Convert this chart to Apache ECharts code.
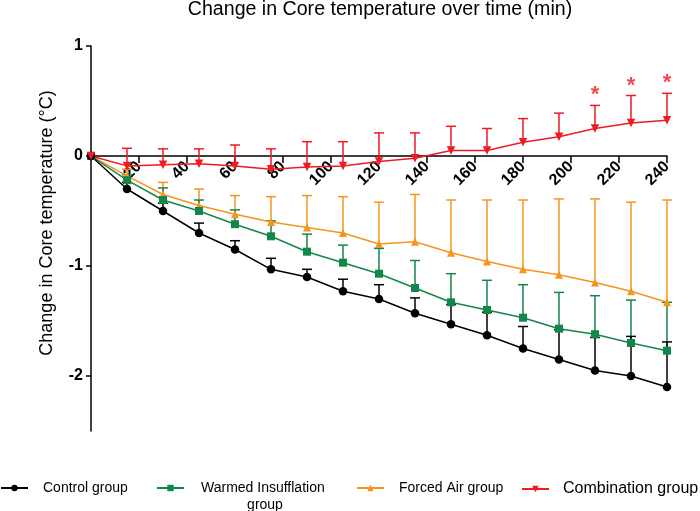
<!DOCTYPE html>
<html>
<head>
<meta charset="utf-8">
<script src="https://cdn.jsdelivr.net/npm/echarts@6/dist/echarts.min.js"></script>
<style>html,body{margin:0;padding:0;background:#fff}#main{width:700px;height:511px}</style>
</head>
<body>
<div id="main"></div>
<script>
const times = [0,15,30,45,60,75,90,105,120,135,150,165,180,195,210,225,240];
const xTicks = [20,40,60,80,100,120,140,160,180,200,220,240];
const yTicks = [-2,-1,0,1];

const controlMean  = [0,-0.30,-0.50,-0.70,-0.85,-1.03,-1.10,-1.23,-1.30,-1.43,-1.53,-1.63,-1.75,-1.85,-1.95,-2.00,-2.10];
const controlUpper = [0,-0.24,-0.43,-0.61,-0.77,-0.93,-1.03,-1.12,-1.17,-1.29,-1.35,-1.42,-1.55,-1.58,-1.65,-1.64,-1.69];
const warmedMean   = [0,-0.22,-0.40,-0.50,-0.62,-0.73,-0.87,-0.97,-1.07,-1.20,-1.33,-1.40,-1.47,-1.57,-1.62,-1.70,-1.77];
const warmedUpper  = [0,-0.17,-0.29,-0.40,-0.49,-0.59,-0.71,-0.81,-0.84,-0.95,-1.07,-1.13,-1.17,-1.24,-1.27,-1.31,-1.33];
const forcedMean   = [0,-0.18,-0.35,-0.45,-0.53,-0.60,-0.65,-0.70,-0.80,-0.78,-0.88,-0.96,-1.03,-1.08,-1.15,-1.23,-1.33];
const forcedUpper  = [0,-0.12,-0.24,-0.30,-0.36,-0.37,-0.36,-0.37,-0.42,-0.35,-0.40,-0.40,-0.40,-0.39,-0.39,-0.42,-0.40];
const comboMean    = [0,-0.09,-0.08,-0.07,-0.09,-0.12,-0.10,-0.09,-0.05,-0.02,0.05,0.05,0.125,0.175,0.25,0.30,0.325];
const comboUpper   = [0,0.07,0.065,0.065,0.10,0.065,0.13,0.13,0.21,0.21,0.27,0.25,0.34,0.39,0.46,0.55,0.57];
const sigTimes = [210,225,240];

const FONT = 'Liberation Sans, Arial, Helvetica, sans-serif';
const C_BLACK = '#000000', C_GREEN = '#12874a', C_ORANGE = '#f7941d', C_RED = '#f01a22';

function errSeries(mean, upper, color) {
  return {
    type: 'custom', silent: true, z: 2,
    data: times.map((t, i) => [t, mean[i], upper[i]]),
    encode: { x: 0, y: [1, 2] },
    renderItem: function (params, api) {
      const x = api.value(0), m = api.value(1), u = api.value(2);
      if (u === m) return null;
      const p1 = api.coord([x, m]);
      const p2 = api.coord([x, u]);
      return {
        type: 'group',
        children: [
          { type: 'line', shape: { x1: p1[0], y1: p1[1], x2: p2[0], y2: p2[1] }, style: { stroke: color, lineWidth: 1.5 } },
          { type: 'line', shape: { x1: p2[0] - 5, y1: p2[1], x2: p2[0] + 5, y2: p2[1] }, style: { stroke: color, lineWidth: 1.5 } }
        ]
      };
    }
  };
}

function lineSeries(name, mean, color, symbol, size, rotate) {
  return {
    type: 'line', name: name, z: 3,
    data: times.map((t, i) => [t, mean[i]]),
    symbol: symbol, symbolSize: size, symbolRotate: rotate || 0,
    showAllSymbol: true,
    itemStyle: { color: color },
    lineStyle: { color: color, width: 1.5 }
  };
}

function legendFor(name, left, fontSize, extra) {
  return Object.assign({
    show: true, data: [name], left: left, top: 481, padding: 0,
    itemWidth: 27, itemHeight: 8, selectedMode: false,
    textStyle: { fontSize: fontSize, color: '#000', fontFamily: FONT, padding: [0, 0, 0, 10] }
  }, extra || {});
}

const chart = echarts.init(document.getElementById('main'));
chart.setOption({
  animation: false,
  backgroundColor: '#fff',
  title: {
    text: 'Change in Core temperature over time (min)',
    left: 380, top: 0, padding: 0, textAlign: 'center',
    textStyle: { fontSize: 19.6, fontWeight: 'normal', color: '#000', fontFamily: FONT }
  },
  grid: { left: 91, right: 33, top: 46, bottom: 80, containLabel: false },
  xAxis: {
    type: 'value', min: 0, max: 240, interval: 20,
    offset: -275,
    axisLine: { onZero: false, lineStyle: { color: '#000', width: 1.5 } },
    axisTick: { show: true, customValues: xTicks, length: 7, lineStyle: { color: '#000', width: 1.5 } },
    axisLabel: { customValues: xTicks, rotate: 45, fontSize: 16, fontWeight: 'bold', color: '#000', fontFamily: FONT, margin: 8 },
    splitLine: { show: false }
  },
  yAxis: {
    type: 'value', min: -2.5, max: 1,
    axisLine: { show: true, lineStyle: { color: '#000', width: 1.5 } },
    axisTick: { show: true, customValues: yTicks, length: 5, lineStyle: { color: '#000', width: 1.5 } },
    axisLabel: { customValues: yTicks, fontSize: 16, fontWeight: 'bold', color: '#000', fontFamily: FONT, margin: 8 },
    splitLine: { show: false }
  },
  legend: [
    legendFor('Control group', 0, 14),
    legendFor('Warmed Insufflation group', 156, 14, {
      formatter: function () { return '{a|Warmed Insufflation}\n{b|group}'; },
      textStyle: {
        fontSize: 14, color: '#000', fontFamily: FONT, padding: [17, 0, 0, 12],
        rich: { a: { fontSize: 14, fontFamily: FONT, lineHeight: 17, width: 128 }, b: { fontSize: 14, fontFamily: FONT, lineHeight: 17, width: 128, align: 'center' } }
      }
    }),
    legendFor('Forced Air group', 356, 14),
    legendFor('Combination group', 521, 16, { textStyle: { fontSize: 16, color: '#000', fontFamily: FONT, padding: [0, 0, 0, 9] } })
  ],
  graphic: [{
    type: 'text', x: 47, y: 223, rotation: Math.PI / 2,
    style: { text: 'Change in Core temperature (°C)', fontSize: 18, fontFamily: FONT, fill: '#000', align: 'center', verticalAlign: 'middle' }
  }],
  series: [
    errSeries(forcedMean, forcedUpper, C_ORANGE),
    errSeries(warmedMean, warmedUpper, C_GREEN),
    errSeries(controlMean, controlUpper, C_BLACK),
    errSeries(comboMean, comboUpper, C_RED),
    lineSeries('Forced Air group', forcedMean, C_ORANGE, 'triangle', 8),
    lineSeries('Warmed Insufflation group', warmedMean, C_GREEN, 'rect', 8),
    lineSeries('Control group', controlMean, C_BLACK, 'circle', 8.5),
    lineSeries('Combination group', comboMean, C_RED, 'triangle', 8.5, 180),
    {
      type: 'scatter', silent: true, z: 4, symbolSize: 0,
      data: sigTimes.map(t => [t, comboUpper[times.indexOf(t)]]),
      label: { show: true, formatter: '*', position: 'top', distance: -1, color: C_RED, fontSize: 22, fontWeight: 'bold', fontFamily: FONT }
    }
  ]
});
</script>
</body>
</html>
